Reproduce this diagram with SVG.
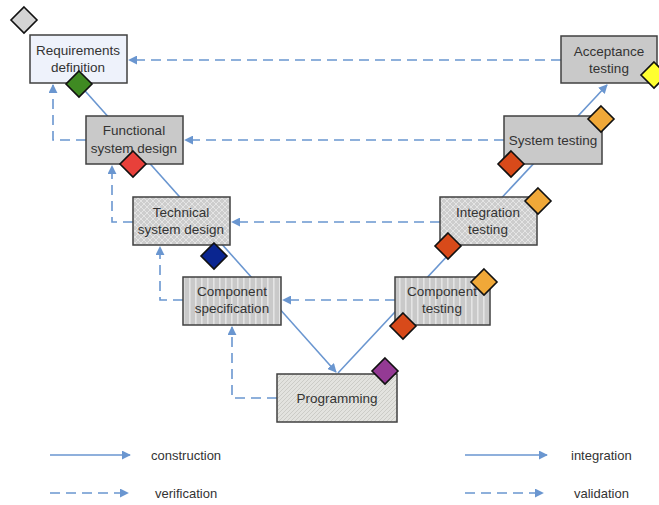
<svg xmlns="http://www.w3.org/2000/svg" width="659" height="505" viewBox="0 0 659 505">
<style>
.box{stroke:#404040;stroke-width:1.5}
.t{font-family:"Liberation Sans",Arial,sans-serif;font-size:13.5px;fill:#333;text-anchor:middle}
.lt{font-family:"Liberation Sans",Arial,sans-serif;font-size:13px;fill:#333}
.solid{stroke:#6a96d0;stroke-width:1.6;fill:none}
.dash{stroke:#6a96d0;stroke-width:1.6;fill:none;stroke-dasharray:10 6}
.dia{stroke:#111;stroke-width:1.6}
</style>
<defs>
<marker id="ah" viewBox="0 0 10 10" refX="9" refY="5" markerWidth="9" markerHeight="9" markerUnits="userSpaceOnUse" orient="auto">
<path d="M0,0 L10,5 L0,10 z" fill="#6a96d0"/>
</marker>
<pattern id="cross" width="6" height="6" patternUnits="userSpaceOnUse">
<rect width="6" height="6" fill="#cdcdcd"/>
<path d="M0,0 L6,6 M6,0 L0,6" stroke="#e6e6e6" stroke-width="0.9"/>
</pattern>
<pattern id="vstr" width="6" height="6" patternUnits="userSpaceOnUse">
<rect width="6" height="6" fill="#c9c9c9"/>
<rect x="3" width="1.6" height="6" fill="#e4e4e4"/>
</pattern>
<pattern id="diag" width="4" height="4" patternUnits="userSpaceOnUse">
<rect width="4" height="4" fill="#e3e3df"/>
<path d="M-1,5 L5,-1" stroke="#c6c6c2" stroke-width="0.8"/>
</pattern>
</defs>

<g id="connectors">
<line class="solid" x1="78" y1="83" x2="336" y2="372" marker-end="url(#ah)"/>
<line class="solid" x1="338" y1="373" x2="607" y2="85" marker-end="url(#ah)"/>
<polyline class="dash" points="86,140 53,140 53,85" marker-end="url(#ah)"/>
<polyline class="dash" points="133,222 112,222 112,166" marker-end="url(#ah)"/>
<polyline class="dash" points="183,300 160,300 160,247" marker-end="url(#ah)"/>
<polyline class="dash" points="277,398 232,398 232,327" marker-end="url(#ah)"/>
<line class="dash" x1="561" y1="60" x2="129" y2="60" marker-end="url(#ah)"/>
<line class="dash" x1="504" y1="140" x2="185" y2="140" marker-end="url(#ah)"/>
<line class="dash" x1="440" y1="222" x2="232" y2="222" marker-end="url(#ah)"/>
<line class="dash" x1="395" y1="300" x2="283" y2="300" marker-end="url(#ah)"/>
</g>

<g id="req">
<rect class="box" x="30" y="35" width="97" height="48" fill="#eef2fb"/>
<text class="t" x="78" y="55">Requirements</text>
<text class="t" x="78" y="72">definition</text>
</g>
<g id="func">
<rect class="box" x="86" y="116" width="97" height="48" fill="#c9c9c9"/>
<text class="t" x="134" y="135">Functional</text>
<text class="t" x="134" y="153">system design</text>
</g>
<g id="tech">
<rect class="box" x="133" y="197" width="97" height="48" fill="url(#cross)"/>
<text class="t" x="181" y="217">Technical</text>
<text class="t" x="181" y="234">system design</text>
</g>
<g id="compspec">
<rect class="box" x="183" y="277" width="98" height="48" fill="url(#vstr)"/>
<text class="t" x="232" y="296">Component</text>
<text class="t" x="232" y="313">specification</text>
</g>
<g id="prog">
<rect class="box" x="277" y="374" width="120" height="48" fill="url(#diag)"/>
<text class="t" x="337" y="403">Programming</text>
</g>
<g id="comptest">
<rect class="box" x="395" y="277" width="95" height="48" fill="url(#vstr)"/>
<text class="t" x="442" y="296">Component</text>
<text class="t" x="442" y="313">testing</text>
</g>
<g id="integ">
<rect class="box" x="440" y="197" width="97" height="48" fill="url(#cross)"/>
<text class="t" x="488" y="217">Integration</text>
<text class="t" x="488" y="234">testing</text>
</g>
<g id="systest">
<rect class="box" x="504" y="116" width="98" height="48" fill="#c9c9c9"/>
<text class="t" x="553" y="145">System testing</text>
</g>
<g id="accept">
<rect class="box" x="561" y="36" width="96" height="47" fill="#c9c9c9"/>
<text class="t" x="609" y="56">Acceptance</text>
<text class="t" x="609" y="73">testing</text>
</g>

<g id="diamonds">
<polygon class="dia" fill="#d4d4d4" points="24,7 37,20 24,33 11,20"/>
<polygon class="dia" fill="#3f8a22" points="79,71 92,84 79,97 66,84"/>
<polygon class="dia" fill="#e8403a" points="133,151 146,164 133,177 120,164"/>
<polygon class="dia" fill="#0a2590" points="214,243 227,256 214,269 201,256"/>
<polygon class="dia" fill="#943a94" points="385,358 398,371 385,384 372,371"/>
<polygon class="dia" fill="#d84a1a" points="403,313 416,326 403,339 390,326"/>
<polygon class="dia" fill="#f0a838" points="484,269 497,282 484,295 471,282"/>
<polygon class="dia" fill="#d84a1a" points="448,233 461,246 448,259 435,246"/>
<polygon class="dia" fill="#f0a838" points="538,188 551,201 538,214 525,201"/>
<polygon class="dia" fill="#d84a1a" points="511,151 524,164 511,177 498,164"/>
<polygon class="dia" fill="#f0a838" points="601,106 614,119 601,132 588,119"/>
<polygon class="dia" fill="#ffff30" points="654,62 667,75 654,88 641,75"/>
</g>

<g id="legend">
<line class="solid" x1="50" y1="455" x2="130" y2="455" marker-end="url(#ah)"/>
<text class="lt" x="151" y="460">construction</text>
<line class="dash" x1="50" y1="493" x2="128" y2="493" stroke-dasharray="8 6" marker-end="url(#ah)"/>
<text class="lt" x="155" y="498">verification</text>
<line class="solid" x1="465" y1="455" x2="547" y2="455" marker-end="url(#ah)"/>
<text class="lt" x="571" y="460">integration</text>
<line class="dash" x1="465" y1="493" x2="543" y2="493" stroke-dasharray="8 6" marker-end="url(#ah)"/>
<text class="lt" x="574" y="498">validation</text>
</g>
</svg>
